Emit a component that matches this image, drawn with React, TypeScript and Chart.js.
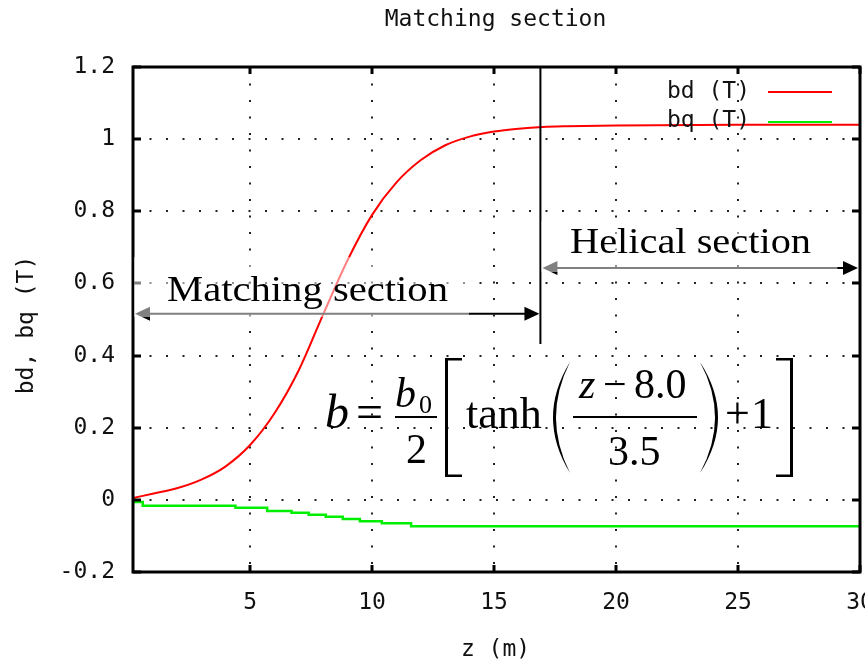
import React, { useEffect, useRef } from 'react';
import { Chart, registerables } from 'chart.js';

Chart.register(...registerables);

// ---- data ----
const bdZ = [0.2, 1, 2, 3, 4, 5, 6, 7, 8, 9, 10, 11, 12, 13, 14, 15, 16, 17, 18, 20, 25, 30];
const bdValues = [0.005, 0.017, 0.032, 0.056, 0.093, 0.152, 0.24, 0.36, 0.515, 0.665, 0.79, 0.88, 0.942, 0.983, 1.007, 1.021, 1.029, 1.034, 1.036, 1.038, 1.04, 1.04];
const bqZ = [0.2, 0.6, 4.4, 5.7, 6.7, 7.4, 8.1, 8.8, 9.5, 10.4, 11.6, 14.9, 30];
const bqValues = [0.0, -0.006, -0.016, -0.022, -0.031, -0.036, -0.041, -0.047, -0.053, -0.059, -0.065, -0.073, -0.073];

const xTicks = [5, 10, 15, 20, 25, 30];
const yTicks = [-0.2, 0, 0.2, 0.4, 0.6, 0.8, 1, 1.2];
const xRange = [0.2, 30];
const yRange = [-0.2, 1.2];

const titleText = 'Matching section';
const xAxisTitle = 'z (m)';
const yAxisTitle = 'bd, bq (T)';
const seriesLabels = ['bd (T)', 'bq (T)'];
const seriesColors = ['#ff0000', '#00ee00'];

const boundaryZ = 16.9;
const matchingArrowY = 0.516;
const helicalArrowY = 0.643;
const boundaryBottomY = 0.432;
const matchingLabel = 'Matching section';
const helicalLabel = 'Helical section';

const MONO = '"DejaVu Sans Mono", monospace';
const SERIF = '"Liberation Serif", "Times New Roman", serif';
const MONO_SIZE = 23;

function fitText(ctx: CanvasRenderingContext2D, text: string, x: number, y: number, font: string, width: number) {
  ctx.save();
  ctx.font = font;
  const w = ctx.measureText(text).width;
  ctx.translate(x, y);
  ctx.scale(width / w, 1);
  ctx.textAlign = 'left';
  ctx.textBaseline = 'alphabetic';
  ctx.fillText(text, 0, 0);
  ctx.restore();
}

function arrowHead(ctx: CanvasRenderingContext2D, tipX: number, y: number, dir: number) {
  ctx.beginPath();
  ctx.moveTo(tipX, y);
  ctx.lineTo(tipX - dir * 15, y - 7);
  ctx.lineTo(tipX - dir * 15, y + 7);
  ctx.closePath();
  ctx.fill();
}

const decor = {
  id: 'decor',
  afterDraw(chart: any) {
    const ctx: CanvasRenderingContext2D = chart.ctx;
    const { left, right, top, bottom } = chart.chartArea;
    const xs = chart.scales.x;
    const ys = chart.scales.y;
    ctx.save();

    // border
    ctx.strokeStyle = '#000';
    ctx.lineWidth = 3;
    ctx.strokeRect(left, top, right - left, bottom - top);

    // inward tick marks (mirrored)
    ctx.lineWidth = 3;
    ctx.beginPath();
    xTicks.forEach((v) => {
      const px = Math.round(xs.getPixelForValue(v));
      ctx.moveTo(px, bottom);
      ctx.lineTo(px, bottom - 7);
      ctx.moveTo(px, top);
      ctx.lineTo(px, top + 7);
    });
    yTicks.forEach((v) => {
      const py = Math.round(ys.getPixelForValue(v));
      ctx.moveTo(left, py);
      ctx.lineTo(left + 8, py);
      ctx.moveTo(right, py);
      ctx.lineTo(right - 8, py);
    });
    ctx.stroke();

    // titles
    ctx.fillStyle = '#111';
    ctx.font = `${MONO_SIZE}px ${MONO}`;
    ctx.textAlign = 'center';
    ctx.textBaseline = 'middle';
    ctx.fillText(titleText, (left + right) / 2 - 1, 20);
    ctx.fillText(xAxisTitle, (left + right) / 2 - 1, 650);
    ctx.save();
    ctx.translate(27, 325);
    ctx.rotate(-Math.PI / 2);
    ctx.fillText(yAxisTitle, 0, 0);
    ctx.restore();

    // legend
    ctx.textAlign = 'right';
    const legY = [92, 121];
    seriesLabels.forEach((lab, i) => {
      ctx.fillStyle = '#111';
      ctx.fillText(lab, 750, legY[i]);
      ctx.strokeStyle = seriesColors[i];
      ctx.lineWidth = 2;
      ctx.beginPath();
      ctx.moveTo(768, legY[i] + i);
      ctx.lineTo(832, legY[i] + i);
      ctx.stroke();
    });

    // boundary line
    const bx = xs.getPixelForValue(boundaryZ);
    ctx.strokeStyle = '#000';
    ctx.lineWidth = 2;
    ctx.beginPath();
    ctx.moveTo(bx, top);
    ctx.lineTo(bx, ys.getPixelForValue(boundaryBottomY));
    ctx.stroke();

    // arrows
    ctx.fillStyle = '#000';
    const mY = ys.getPixelForValue(matchingArrowY);
    const mL = xs.getPixelForValue(xRange[0]) + 2;
    ctx.beginPath();
    ctx.moveTo(mL + 10, mY);
    ctx.lineTo(bx - 10, mY);
    ctx.stroke();
    arrowHead(ctx, mL, mY, -1);
    arrowHead(ctx, bx - 1, mY, 1);

    const hY = ys.getPixelForValue(helicalArrowY);
    const hR = xs.getPixelForValue(xRange[1]) - 2;
    ctx.beginPath();
    ctx.moveTo(bx + 10, hY);
    ctx.lineTo(hR - 10, hY);
    ctx.stroke();
    arrowHead(ctx, bx + 2, hY, -1);
    arrowHead(ctx, hR, hY, 1);

    // semi-transparent label boxes
    ctx.fillStyle = 'rgba(255,255,255,0.5)';
    ctx.fillRect(left + 1, 257, 335, 60);
    ctx.fillRect(bx + 1, 221, 296, 51);

    // section labels
    ctx.fillStyle = '#000';
    fitText(ctx, matchingLabel, 167, 301, `36px ${SERIF}`, 281);
    fitText(ctx, helicalLabel, 570, 253, `36px ${SERIF}`, 241);

    // formula
    ctx.fillStyle = '#000';
    ctx.textAlign = 'left';
    ctx.textBaseline = 'alphabetic';
    ctx.font = `italic 48px ${SERIF}`;
    ctx.fillText('b', 325, 428);
    ctx.font = `48px ${SERIF}`;
    ctx.fillText('=', 356, 428);
    ctx.font = `italic 42px ${SERIF}`;
    ctx.fillText('b', 395, 407);
    ctx.font = `26px ${SERIF}`;
    ctx.fillText('0', 419, 413);
    ctx.fillRect(395, 416, 42, 2);
    ctx.font = `42px ${SERIF}`;
    ctx.fillText('2', 406, 463);
    // [
    ctx.fillRect(445, 358, 3, 119);
    ctx.fillRect(445, 358, 17, 2.5);
    ctx.fillRect(445, 474.5, 17, 2.5);
    ctx.font = `44px ${SERIF}`;
    ctx.fillText('tanh', 466, 428);
    // (
    ctx.beginPath();
    ctx.moveTo(570, 362);
    ctx.quadraticCurveTo(536, 417.5, 570, 473);
    ctx.quadraticCurveTo(542, 417.5, 570, 362);
    ctx.fill();
    ctx.font = `italic 42px ${SERIF}`;
    ctx.fillText('z', 579, 398);
    ctx.font = `42px ${SERIF}`;
    ctx.fillText('\u2212', 603, 398);
    ctx.fillText('8.0', 634, 398);
    ctx.fillRect(573, 416, 124, 2);
    ctx.fillText('3.5', 608, 465);
    // )
    ctx.beginPath();
    ctx.moveTo(700, 362);
    ctx.quadraticCurveTo(736, 417.5, 700, 473);
    ctx.quadraticCurveTo(730, 417.5, 700, 362);
    ctx.fill();
    ctx.font = `44px ${SERIF}`;
    ctx.fillText('+', 725, 428);
    ctx.fillText('1', 751, 428);
    // ]
    ctx.fillRect(790, 358, 3, 119);
    ctx.fillRect(776, 358, 17, 2.5);
    ctx.fillRect(776, 474.5, 17, 2.5);

    ctx.restore();
  },
};

export default function App() {
  const ref = useRef<HTMLCanvasElement>(null);
  useEffect(() => {
    if (!ref.current) return;
    const chart = new Chart(ref.current, {
      type: 'line',
      data: {
        datasets: [
          {
            label: seriesLabels[0],
            data: bdZ.map((z, i) => ({ x: z, y: bdValues[i] })),
            borderColor: seriesColors[0],
            borderWidth: 2,
            pointRadius: 0,
            cubicInterpolationMode: 'monotone',
            fill: false,
          },
          {
            label: seriesLabels[1],
            data: bqZ.map((z, i) => ({ x: z, y: bqValues[i] })),
            borderColor: seriesColors[1],
            borderWidth: 2.5,
            pointRadius: 0,
            stepped: 'after',
            fill: false,
          },
        ],
      },
      options: {
        animation: false,
        responsive: false,
        devicePixelRatio: 1,
        layout: { padding: { left: 0, right: 40, top: 67, bottom: 0 } },
        plugins: { legend: { display: false }, title: { display: false }, tooltip: { enabled: false } },
        scales: {
          x: {
            type: 'linear',
            min: xRange[0],
            max: xRange[1],
            afterFit: (s: any) => { s.height = 93; },
            afterBuildTicks: (s: any) => { s.ticks = xTicks.map((v) => ({ value: v })); },
            ticks: {
              autoSkip: false,
              maxRotation: 0,
              padding: 17,
              color: '#111',
              font: { family: MONO, size: MONO_SIZE },
              callback: (v: any) => String(v),
            },
            grid: { color: '#222', lineWidth: 2, drawTicks: false, tickLength: 0 },
            border: { display: false, dash: [2, 14.5] },
          },
          y: {
            type: 'linear',
            min: yRange[0],
            max: yRange[1],
            afterFit: (s: any) => { s.width = 133; },
            afterBuildTicks: (s: any) => { s.ticks = yTicks.map((v) => ({ value: v })); },
            ticks: {
              autoSkip: false,
              padding: 18,
              color: '#111',
              font: { family: MONO, size: MONO_SIZE },
              callback: (v: any) => String(Math.round(Number(v) * 10) / 10),
            },
            grid: { color: '#222', lineWidth: 2, drawTicks: false, tickLength: 0 },
            border: { display: false, dash: [2, 14.5] },
          },
        },
      },
      plugins: [decor],
    } as any);
    return () => chart.destroy();
  }, []);

  return (
    <div style={{ position: 'fixed', left: 0, top: 0, width: 865, height: 665, overflow: 'hidden', background: '#fff' }}>
      <canvas ref={ref} width={900} height={665} style={{ display: 'block' }} />
    </div>
  );
}
